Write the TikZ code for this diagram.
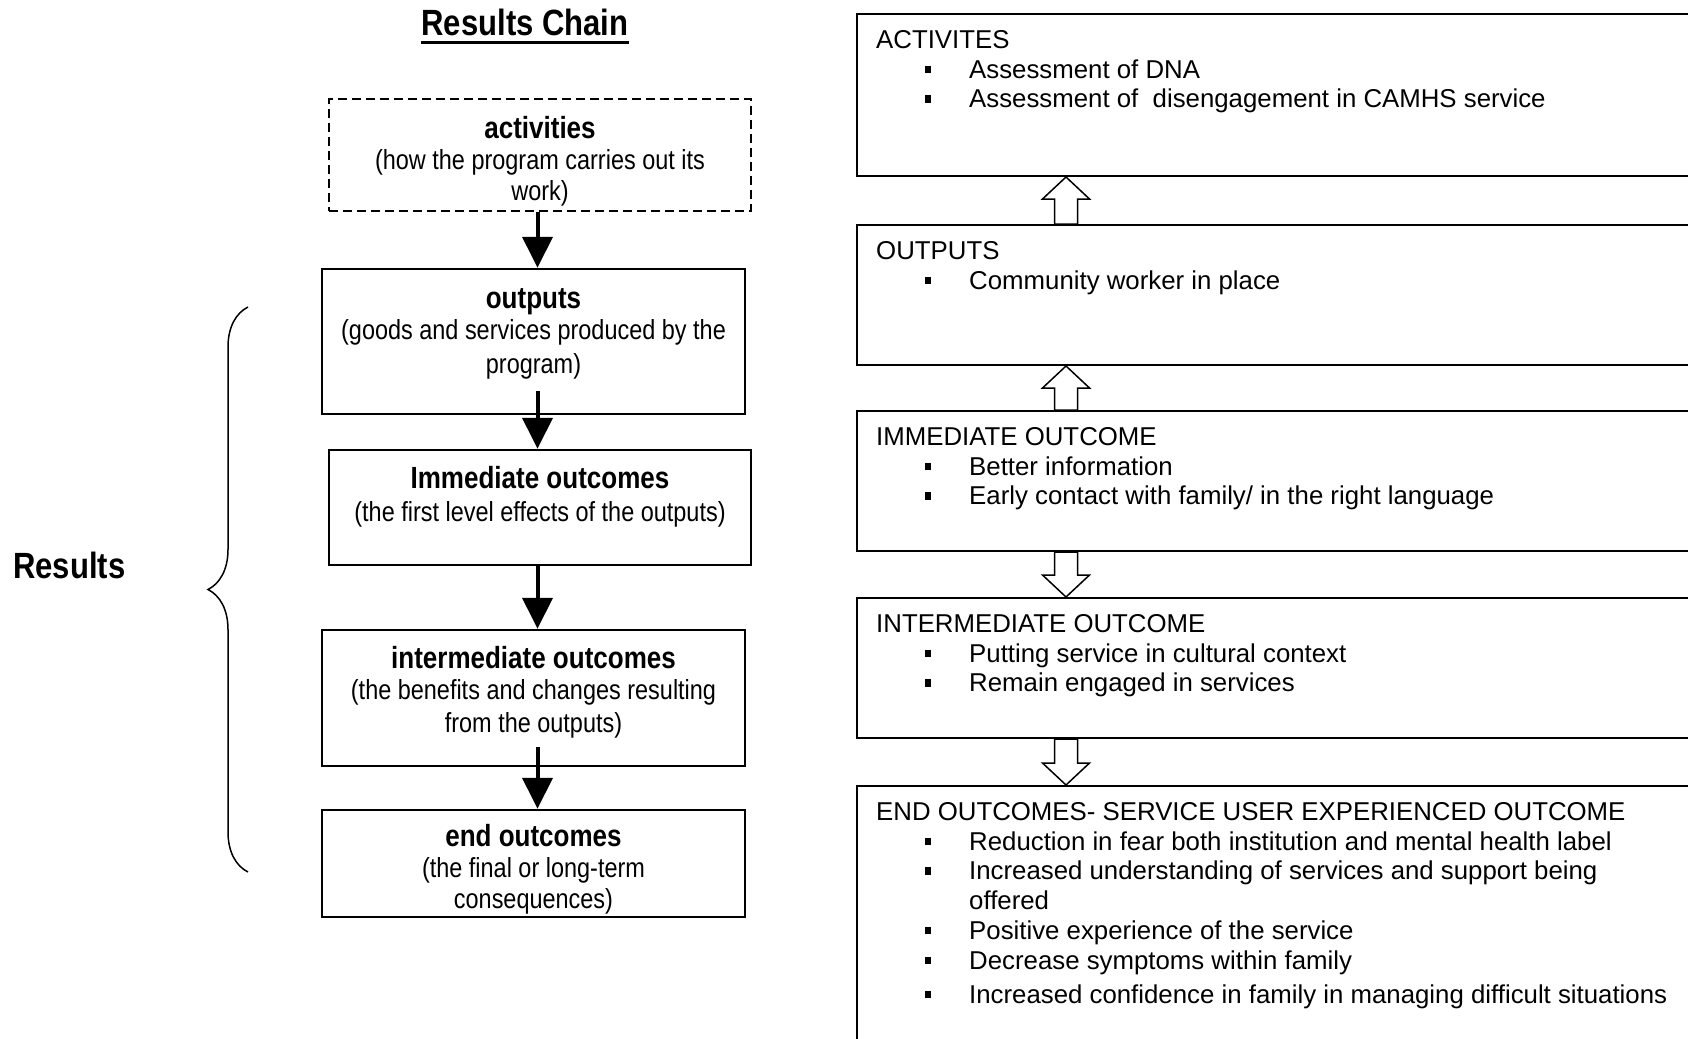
\documentclass[tikz,border=0pt]{standalone}
\usepackage{fontspec}
\setmainfont{Liberation Sans}
\newfontfamily\chainfont[FakeStretch=0.85]{Liberation Sans}
\usetikzlibrary{positioning,arrows.meta,calc,decorations.pathreplacing}

\tikzset{
  chainbox/.style={draw, line width=2.5pt, inner sep=0pt},
  chaintext/.style={font=\chainfont\fontsize{27.6}{31}\selectfont, align=center, inner sep=0pt},
  bigbold/.style={font=\chainfont\bfseries\fontsize{36.5}{40}\selectfont, inner sep=0pt},
  chainarrow/.style={line width=4pt, -{Triangle[width=30pt,length=31pt]}},
  logicbox/.style={draw, line width=2pt, anchor=north west, minimum width=850pt, inner sep=0pt},
  logictext/.style={font=\fontsize{25.8}{29.8}\selectfont, align=left, inner sep=0pt},
  hollow/.style={draw, line width=1.5pt, fill=white}
}
\newcommand{\hd}[1]{{\bfseries\fontsize{30.6}{31}\selectfont #1}}
\newcommand{\itm}{\hspace*{49pt}\makebox[44pt][l]{\rule[5pt]{6pt}{7.5pt}}}
\newcommand{\blockarrow}[2]{%
  \draw[hollow] let \p1=(#1), \p2=(#2), \p3=($(#2)!22pt!(#1)$) in
    (\x1-11.5pt,\y1) -- (\x1-11.5pt,\y3) -- (\x1-23.5pt,\y3) -- (\p2)
    -- (\x1+23.5pt,\y3) -- (\x1+11.5pt,\y3) -- (\x1+11.5pt,\y1) -- cycle;}

\begin{document}
\begin{tikzpicture}[x=1pt,y=-1pt]
\useasboundingbox (0,0) rectangle (1688,1038);

% results chain
\node[bigbold, anchor=base] (title) at (525,36) {Results Chain};
\draw[line width=3pt] ([yshift=-7pt]title.base west) -- ([yshift=-7pt]title.base east);

\node[chainbox, dash pattern=on 9pt off 5pt, minimum width=422pt, minimum height=112pt] (lact) at (540,155) {};
\node[chainbox, minimum width=423pt, minimum height=145pt] (lout) at (533.5,341.5) {};
\node[chainbox, minimum width=422pt, minimum height=115pt] (limm) at (540,507.5) {};
\node[chainbox, minimum width=423pt, minimum height=136pt] (lint) at (533.5,698) {};
\node[chainbox, minimum width=423pt, minimum height=107pt] (lend) at (533.5,863.5) {};

\node[chaintext, below=18pt of lact.north] (tact) {\hd{activities}\\(how the program carries out its\\work)};
\node[chaintext, below=21pt of lout.north] (tout) {\hd{outputs}\\(goods and services produced by the\\[3pt]program)};
\node[chaintext, below=17pt of limm.north] (timm) {\hd{Immediate outcomes}\\[2pt](the first level effects of the outputs)};
\node[chaintext, below=17pt of lint.north] (tint) {\hd{intermediate outcomes}\\(the benefits and changes resulting\\[2pt]from the outputs)};
\node[chaintext, below=15pt of lend.north] (tend) {\hd{end outcomes}\\(the final or long-term\\consequences)};

\coordinate (ax) at (537.5,0);
\draw[chainarrow] (lact.south -| ax) -- (lout.north -| ax);
\draw[chainarrow, shorten <=-24pt] (lout.south -| ax) -- (limm.north -| ax);
\draw[chainarrow] (limm.south -| ax) -- (lint.north -| ax);
\draw[chainarrow, shorten <=-20pt] (lint.south -| ax) -- (lend.north -| ax);

\node[bigbold, anchor=base west] (res) at (13,578) {Results};
\coordinate (bt) at (248,307);
\coordinate (bb) at (248,872);
\draw[line width=1.5pt, decorate, decoration={brace, amplitude=40pt}] (bb) -- (bt);

% logic model
\node[logicbox, minimum height=162pt] (ract) at (856,13) {};
\node[logicbox, minimum height=140pt] (rout) at (856,224) {};
\node[logicbox, minimum height=140pt] (rimm) at (856,410) {};
\node[logicbox, minimum height=140pt] (rint) at (856,597) {};
\node[logicbox, minimum height=280pt] (rend) at (856,785) {};

\node[logictext, below right=17pt and 20pt of ract.north west] (tract) {ACTIVITES\\
\itm Assessment of DNA\\
\itm Assessment of\ \ disengagement in CAMHS service};
\node[logictext, below right=17pt and 20pt of rout.north west] (trout) {OUTPUTS\\
\itm Community worker in place};
\node[logictext, below right=17pt and 20pt of rimm.north west] (trimm) {IMMEDIATE OUTCOME\\
\itm Better information\\
\itm Early contact with family/ in the right language};
\node[logictext, below right=17pt and 20pt of rint.north west] (trint) {INTERMEDIATE OUTCOME\\
\itm Putting service in cultural context\\
\itm Remain engaged in services};
\node[logictext, below right=17pt and 20pt of rend.north west] (trend) {END OUTCOMES- SERVICE USER EXPERIENCED OUTCOME\\
\itm Reduction in fear both institution and mental health label\\
\itm Increased understanding of services and support being\\
\hspace*{93pt}offered\\
\itm Positive experience of the service\\
\itm Decrease symptoms within family\\[4pt]
\itm Increased confidence in family in managing difficult situations};

\coordinate (hx) at (1066,0);
\blockarrow{rout.north -| hx}{ract.south -| hx}
\blockarrow{rimm.north -| hx}{rout.south -| hx}
\blockarrow{rimm.south -| hx}{rint.north -| hx}
\blockarrow{rint.south -| hx}{rend.north -| hx}

\end{tikzpicture}
\end{document}
